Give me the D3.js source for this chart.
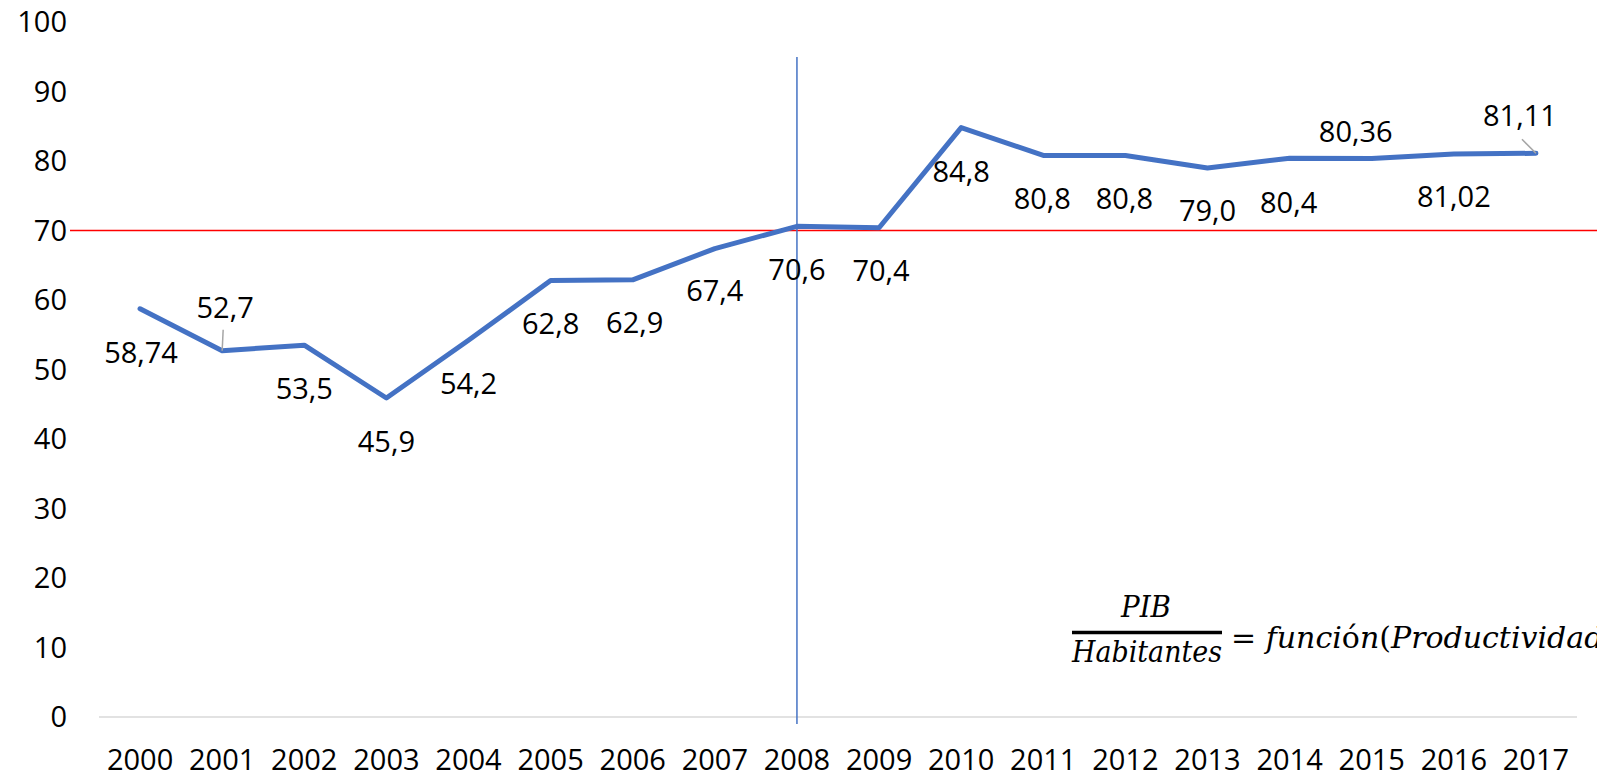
<!DOCTYPE html>
<html lang='es'>
  <head>
    <meta charset='utf-8'>
    <style type='text/css'>
      body {margin: 0; background-color: #fff;}
      #visualization {width: 1597px; height: 775px; overflow: hidden;}
      text {font-family: 'Open Sans', sans-serif; fill: #000;}
      .formula text {font-family: 'DejaVu Serif', serif; font-style: italic;}
    </style>
  </head>
  <body>

    <div id='visualization'>
      <svg width='1597' height='775'></svg>
    </div>

    <script src='https://d3js.org/d3.v7.min.js'></script>
    <script type='text/javascript'>
        // data
        var years  = ["2000","2001","2002","2003","2004","2005","2006","2007","2008",
                      "2009","2010","2011","2012","2013","2014","2015","2016","2017"];
        var values = [58.74, 52.7, 53.5, 45.9, 54.2, 62.8, 62.9, 67.4, 70.6,
                      70.4, 84.8, 80.8, 80.8, 79.0, 80.4, 80.36, 81.02, 81.11];
        var labels = ["58,74","52,7","53,5","45,9","54,2","62,8","62,9","67,4","70,6",
                      "70,4","84,8","80,8","80,8","79,0","80,4","80,36","81,02","81,11"];
        var yTicks = [0, 10, 20, 30, 40, 50, 60, 70, 80, 90, 100];
        var refValue = 70;      // red horizontal line
        var refYear  = "2008";  // blue vertical line

        // label placement (offset of label centre from its point)
        var labelOffsets = [[1,44],[3,-43],[0,44],[0,44],[0,44],[0,43],[2,43],[0,42],[0,44],
                            [2,43],[0,44],[-1,43],[-1,43],[0,43],[-1,45],[-16,-27],[0,43],[-16,-37]];
        // leader lines: index -> start offset from point
        var leaders = {1: [1, -21], 17: [-14, -14]};

        var svg = d3.select("#visualization svg");

        var x = d3.scaleBand().domain(years).range([99, 1577]);
        var y = d3.scaleLinear().domain([0, 100]).range([717, 22]);
        var cx = function(d) { return x(d) + x.bandwidth() / 2; };

        // category axis baseline
        svg.append("line")
          .attr("x1", 99).attr("x2", 1577)
          .attr("y1", y(0)).attr("y2", y(0))
          .style("stroke", "#d9d9d9").style("stroke-width", 1.5);

        // year labels
        svg.append("g").selectAll("text").data(years)
          .enter().append("text")
            .attr("x", cx)
            .attr("y", 769.5)
            .attr("font-size", 29)
            .style("text-anchor", "middle")
            .text(function(d) { return d; });

        // value axis labels
        svg.append("g").selectAll("text").data(yTicks)
          .enter().append("text")
            .attr("x", 67)
            .attr("y", function(d) { return y(d) + 10; })
            .attr("font-size", 29)
            .style("text-anchor", "end")
            .text(function(d) { return d; });

        // reference lines
        svg.append("line")
          .attr("x1", 70).attr("x2", 1597)
          .attr("y1", y(refValue)).attr("y2", y(refValue))
          .style("stroke", "#ff0000").style("stroke-width", 1.5);

        svg.append("line")
          .attr("x1", cx(refYear)).attr("x2", cx(refYear))
          .attr("y1", 57).attr("y2", 724)
          .style("stroke", "#4472c4").style("stroke-width", 1.5);

        // series line
        var line = d3.line()
          .x(function(d, i) { return cx(years[i]); })
          .y(function(d) { return y(d); });

        svg.append("path")
          .datum(values)
          .attr("d", line)
          .style("fill", "none")
          .style("stroke", "#4472c4")
          .style("stroke-width", 5)
          .style("stroke-linejoin", "round")
          .style("stroke-linecap", "round");

        // leader lines
        Object.keys(leaders).forEach(function(k) {
          var i = +k, px = cx(years[i]), py = y(values[i]);
          svg.append("line")
            .attr("x1", px + leaders[k][0]).attr("y1", py + leaders[k][1])
            .attr("x2", px).attr("y2", py)
            .style("stroke", "#a6a6a6").style("stroke-width", 1.5);
        });

        // data labels
        svg.append("g").selectAll("text").data(values)
          .enter().append("text")
            .attr("x", function(d, i) { return cx(years[i]) + labelOffsets[i][0]; })
            .attr("y", function(d, i) { return y(d) + labelOffsets[i][1]; })
            .attr("dy", "0.35em")
            .attr("font-size", 29)
            .style("text-anchor", "middle")
            .text(function(d, i) { return labels[i]; });

        // formula
        var f = svg.append("g").attr("class", "formula");
        f.append("text")
          .attr("x", 1146).attr("y", 617)
          .attr("font-size", 30)
          .attr("textLength", 50)
          .attr("lengthAdjust", "spacingAndGlyphs")
          .style("text-anchor", "middle")
          .text("PIB");
        f.append("line")
          .attr("x1", 1072).attr("x2", 1222)
          .attr("y1", 632.5).attr("y2", 632.5)
          .style("stroke", "#000").style("stroke-width", 3.5);
        f.append("text")
          .attr("x", 1072).attr("y", 661.5)
          .attr("font-size", 30)
          .attr("textLength", 150)
          .attr("lengthAdjust", "spacingAndGlyphs")
          .text("Habitantes");
        var rhs = f.append("text")
          .attr("x", 1231).attr("y", 648)
          .attr("font-size", 30);
        rhs.append("tspan").style("font-style", "normal").text("= ");
        rhs.append("tspan").text("funci");
        rhs.append("tspan").style("font-style", "normal").text("ó");
        rhs.append("tspan").text("n");
        rhs.append("tspan").style("font-style", "normal").text("(");
        rhs.append("tspan").text("Productividad");
        rhs.append("tspan").style("font-style", "normal").text(")");
    </script>
  </body>
</html>
